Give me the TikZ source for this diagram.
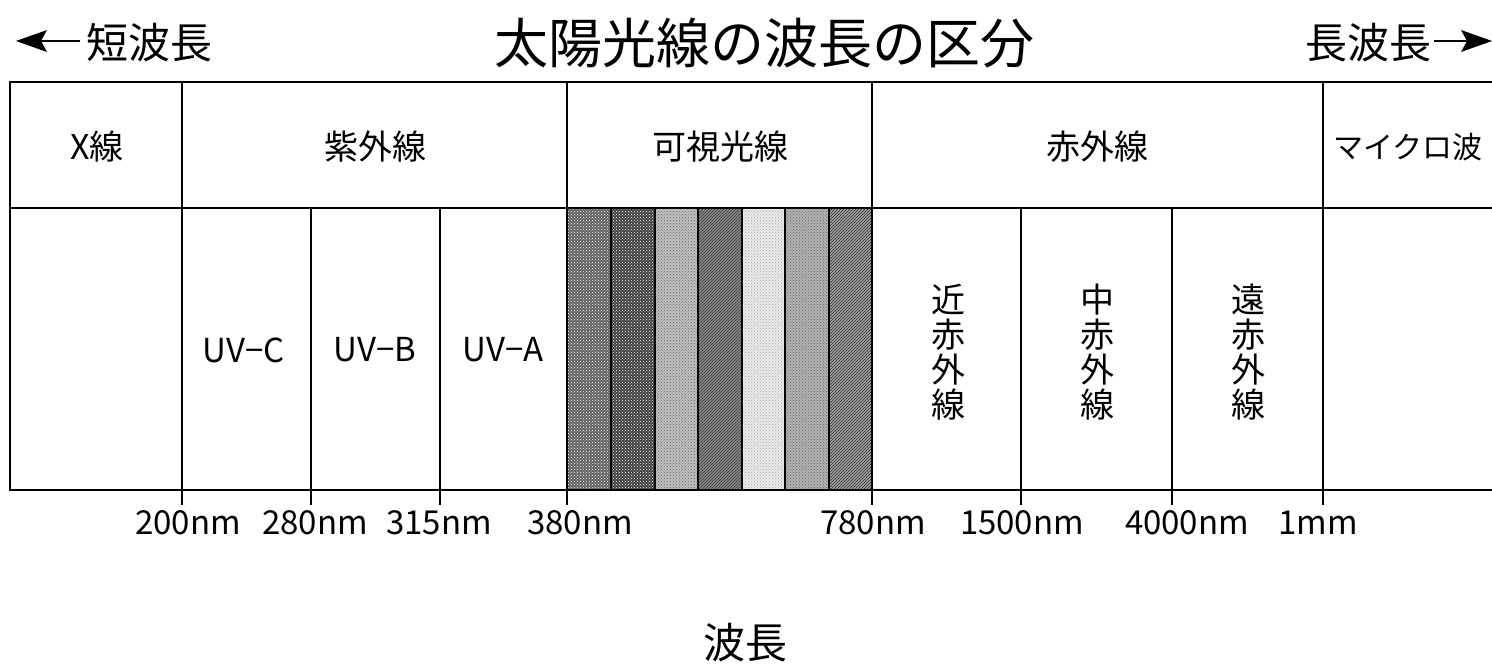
\documentclass[tikz,border=0pt]{standalone}
\usepackage{fontspec}
\setmainfont{Noto Sans CJK JP}
\usetikzlibrary{patterns}
\begin{document}
\begin{tikzpicture}[x=1pt,y=-1pt,
  frame/.style={line width=2.6pt},
  inner/.style={line width=1.6pt},
  thin/.style={line width=1.2pt},
  hdr/.style={font=\fontsize{34}{38}\selectfont, inner sep=0pt},
  lab/.style={font=\fontsize{33}{36}\selectfont, inner sep=0pt},
  vert/.style={font=\fontsize{34}{35}\selectfont, align=center, inner sep=0pt},
  big/.style={font=\fontsize{54}{58}\selectfont, inner sep=0pt},
  side/.style={font=\fontsize{42}{46}\selectfont, inner sep=0pt},
  shaft/.style={line width=2.8pt},
  head/.style={fill=black}
]
\useasboundingbox (0,0) rectangle (1492,666);
\fill[white] (0,0) rectangle (1492,666);

% visible light stripes
\fill[black!62] (567,208) rectangle (611,490);
\fill[pattern=crosshatch dots, pattern color=white] (567,208) rectangle (611,490);
\fill[black!75] (611,208) rectangle (655,490);
\fill[pattern=crosshatch dots, pattern color=white] (611,208) rectangle (655,490);
\fill[black!25] (655,208) rectangle (698,490);
\fill[pattern=crosshatch dots, pattern color=black!60] (655,208) rectangle (698,490);
\fill[black!45] (698,208) rectangle (742,490);
\fill[pattern=north east lines, pattern color=black!80] (698,208) rectangle (742,490);
\fill[black!8] (742,208) rectangle (785,490);
\fill[pattern=crosshatch dots, pattern color=black!35] (742,208) rectangle (785,490);
\fill[black!30] (785,208) rectangle (829,490);
\fill[pattern=crosshatch dots, pattern color=black!60] (785,208) rectangle (829,490);
\fill[black!35] (829,208) rectangle (872,490);
\fill[pattern=north east lines, pattern color=black!85] (829,208) rectangle (872,490);
\foreach \x in {611,655,698,742,785,829}
  \draw[thin] (\x,208) -- (\x,490);

% frame
\draw[frame] (1492,82) -- (10,82) -- (10,490) -- (1492,490);
\draw[inner] (10,208) -- (1492,208);
\foreach \x in {182,567,872,1323}
  \draw[inner] (\x,82) -- (\x,505);
\foreach \x in {311,440,1021,1172}
  \draw[inner] (\x,208) -- (\x,505);

% title line
\node[big] (title) at (764,43) {太陽光線の波長の区分};
\node[side, anchor=west] (short) at (86,43) {短波長};
\coordinate (sa) at (80,41);
\coordinate (sb) at (16,41);
\draw[shaft] (sa) -- ([xshift=20pt]sb);
\fill[head] (sb) -- ++(31,-11) -- ++(-6,11) -- ++(6,11) -- cycle;
\node[side, anchor=east] (long) at (1432,43) {長波長};
\coordinate (la) at (1434,41);
\coordinate (lb) at (1492,41);
\draw[shaft] (la) -- ([xshift=-20pt]lb);
\fill[head] (lb) -- ++(-31,-11) -- ++(6,11) -- ++(-6,11) -- cycle;

% headers
\node[hdr] (x) at (97,147) {X線};
\node[hdr] (uv) at (375,147) {紫外線};
\node[hdr] (vis) at (720,147) {可視光線};
\node[hdr] (ir) at (1097,147) {赤外線};
\node[hdr, font=\fontsize{30}{34}\selectfont] (mw) at (1408,147) {マイクロ波};

% UV subdivisions
\node[lab] (uvc) at (244,350) {UV−C};
\node[lab] (uvb) at (375,350) {UV−B};
\node[lab] (uva) at (503,350) {UV−A};

% IR subdivisions
\node[vert] (nir) at (948,352) {近\\赤\\外\\線};
\node[vert] (mir) at (1097,352) {中\\赤\\外\\線};
\node[vert] (fir) at (1248,352) {遠\\赤\\外\\線};

% wavelength labels
\node[lab] (w1) at (188,523) {200nm};
\node[lab] (w2) at (315,523) {280nm};
\node[lab] (w3) at (439,523) {315nm};
\node[lab] (w4) at (580,523) {380nm};
\node[lab] (w5) at (873,523) {780nm};
\node[lab] (w6) at (1022,523) {1500nm};
\node[lab] (w7) at (1187,523) {4000nm};
\node[lab] (w8) at (1318,523) {1mm};

\node[side] (wl) at (745,643) {波長};
\end{tikzpicture}
\end{document}
